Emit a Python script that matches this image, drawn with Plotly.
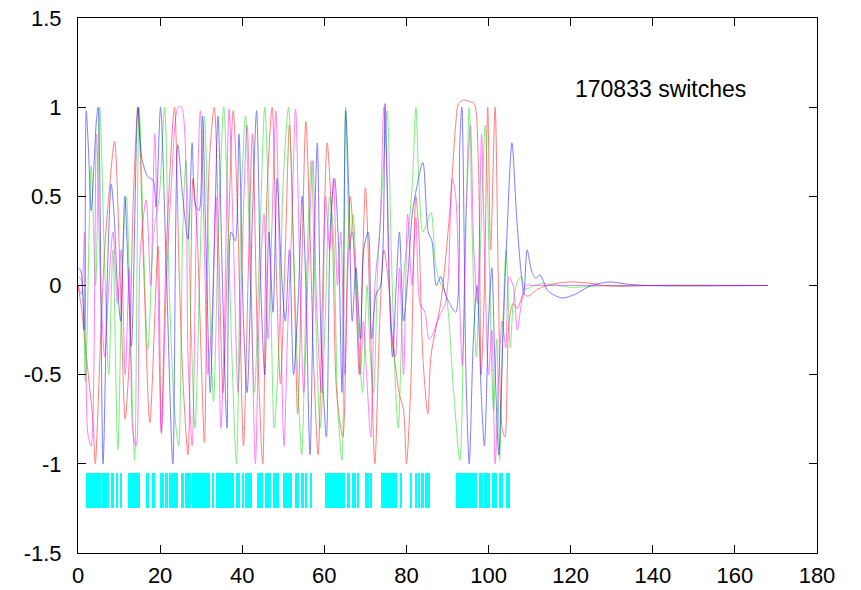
import plotly.graph_objects as go

# ---- data ----
red_x = [0, 0.8, 2.5, 3.65, 4.2, 5.5, 6.5, 7.5, 8.9, 10.2, 11.5, 12.5, 13.5, 14.6, 16, 17.5, 19.5, 20.3, 21.5, 23.5,
         24.6, 25.5, 26.8, 28.0, 29.0, 30.0, 30.8, 32, 33.2, 34.5, 35.3, 36.5, 37.8, 39, 40.3, 41.5, 42.5, 43.7, 45, 46,
         47.3, 48.4, 49.3, 50.5, 51.5, 52.6, 53.5, 54.5, 55.5, 56.5, 57.5, 58.5, 59.5, 60.7, 62, 63, 64.5, 65.5, 66.3, 67.5,
         68.5, 70, 71.2, 72.3, 73.5, 74.5, 75.7, 76.5, 77.3, 78.2, 79.3, 80, 81, 82.3, 83.0, 84, 85.2, 86, 88.4, 90.5,
         92, 92.7, 94, 95.5, 96.5, 97.5, 98.2, 99.0, 99.8, 100.5, 101.6, 102.4, 103.3, 104.0, 105, 106, 107, 108.5, 109.6, 112,
         116, 120, 124, 128, 132, 140, 168]
red_y = [0, -0.12, -0.5, -0.76, -1.0, -0.3, 0.2, 0.5, 0.81, 0.1, -0.75, -0.4, 0.5, 1.0, 0.1, -0.77, 0.22, -0.83, 0.2, 1.0,
         0.1, -0.5, -0.95, 0.6, 0.3, -0.4, -0.88, 0.7, 1.0, 0.0, -0.6, 0.2, 0.98, 0.3, -0.9, 0.1, 0.85, -0.3, -1.0, 0.5,
         1.0, 0.0, -0.55, 0.2, 0.9, 0.1, -0.72, 0.1, 0.92, 0.3, -0.5, -0.95, -0.1, 0.8, 0.25, -0.6, -0.85, 0.0, 0.5, 0.1,
         -0.5, 0.55, -0.2, -1.0, -0.2, 0.2, 0.0, -0.3, -0.45, -0.6, -0.7, -1.0, -0.6, 0.5, 0.3, -0.4, -0.72, -0.39, -0.09, 0.4,
         0.9, 1.02, 1.04, 1.03, 1.02, 0.7, -0.5, 0.0, 1.0, 0.2, 1.0, 0.0, -0.8, -0.85, -0.2, -0.1, -0.13, -0.05, -0.06, -0.02,
         0.01, 0.02, 0.015, 0.0, -0.005, 0, 0]

green_x = [0, 0.8, 1.8, 3.2, 4.3, 5.3, 6.5, 7.5, 8.5, 9.7, 10.8, 11.8, 12.8, 13.8, 14.9, 16, 17, 18.5, 19.8, 21.1,
           22.2, 23.5, 24.5, 25.5, 26.3, 27.5, 28.5, 29.7, 30.8, 31.8, 33.0, 34.2, 35.5, 36.5, 37.5, 38.6, 39.8, 40.8, 42, 43,
           44.2, 45.5, 46.8, 47.8, 49, 50, 51.3, 52.4, 53.5, 54.5, 55.6, 56.8, 57.8, 59, 60.2, 61.3, 62.2, 63.3, 64.3, 65.2,
           66.2, 67, 68.2, 69.3, 70.4, 71.2, 72, 73, 74, 75.3, 76.3, 77.2, 78.0, 78.8, 79.5, 80.5, 81.5, 82.3, 83.0, 84.0,
           85.0, 86.0, 87.2, 88.5, 89.6, 91.5, 93.0, 94.0, 95.3, 96.0, 97.0, 98.0, 99.2, 100.2, 101.2, 102.0, 102.7, 103.5, 104.3, 105.3,
           106.0, 107, 108, 109, 111, 113, 116, 120, 125, 130, 168]
green_y = [0.05, 0.03, -0.54, 0.67, 0.0, 1.0, 0.1, -0.5, 0.2, -0.92, 0.1, 0.5, -0.3, -0.98, 1.0, 0.2, -0.36, 0.3, 0.5, 1.0,
           0.0, -0.7, -0.9, 0.3, 0.7, -0.2, -0.8, 0.1, 0.95, 0.2, -0.65, 0.3, 1.0, 0.4, -0.4, -1.0, 0.5, 0.95, 0.0, -0.6,
           0.2, 1.0, 0.1, -0.8, -0.3, 0.6, 1.0, 0.3, -0.5, -0.95, 0.0, 0.7, -0.1, -0.8, -0.2, 0.5, 0.3, -0.7, -0.98, 1.0,
           0.2, 0.4, -0.2, -0.6, 0.0, -0.4, -0.6, 0.1, 0.5, 0.98, 0.2, -0.5, -0.8, -0.3, 0.1, 0.3, 0.6, 1.0, 0.6, 0.3,
           0.35, 0.41, 0.1, 0.0, -0.05, -0.6, -0.98, -0.2, 1.0, 0.3, -0.4, 0.2, 0.9, 0.1, -0.7, -0.3, -0.98, -0.2, 0.2, -0.35,
           -0.1, 0.02, 0.05, -0.02, 0.0, 0.01, 0.005, -0.01, -0.005, 0, 0]

blue_x = [0, 0.7, 1.5, 2.0, 2.6, 3.2, 4.5, 4.9, 6.1, 7.2, 8.1, 8.8, 9.6, 10.4, 11.4, 13.0, 14.6, 15.5, 17.0, 18.3,
          19.0, 20.1, 21.5, 23.1, 24.3, 25.5, 26.8, 27.8, 28.6, 29.5, 30.3, 31.2, 32.2, 33.2, 34.1, 35.2, 36.3, 37.3, 38.3, 39.2,
          40.3, 41.2, 42.5, 43.5, 44.5, 45.5, 46.5, 47.5, 48.5, 49.5, 50.5, 51.5, 52.5, 53.7, 54.6, 55.5, 56.5, 57.5, 58.3, 59.2,
          60.5, 61.5, 62.5, 63.5, 64.3, 65.2, 66.0, 66.8, 67.7, 68.8, 69.6, 70.7, 71.5, 72.6, 73.7, 74.8, 75.7, 76.6, 77.5, 78.3,
          79.3, 80.5, 81.4, 82.5, 84.0, 85.3, 86.2, 87.3, 88.4, 89.5, 90.5, 92.0, 93.0, 93.5, 94.5, 95.3, 96.3, 97.2, 98.2, 99.0,
          100.0, 100.8, 101.5, 102.5, 103.5, 104.5, 105.7, 106.8, 107.8, 108.6, 109.4, 110.5, 111.5, 112.5, 114.5, 117.9, 121, 125, 129.6, 133,
          138, 168]
blue_y = [0.1, 0.08, -0.25, 0.98, 0.74, 0.42, 0.93, 1.0, -1.0, 0.1, 0.57, 0.39, 0.0, -0.2, 0.5, -0.34, 1.0, 0.72, 0.61, 0.59,
          0.44, 1.0, 0.1, -1.0, 0.79, 0.5, 0.26, 0.8, 0.45, 0.42, 0.95, 0.2, -0.6, 0.2, 0.95, 0.0, -0.8, 0.3, 0.25, 0.85,
          -0.2, -0.6, 0.4, 0.98, 0.0, -0.5, 0.3, -0.15, 0.6, 0.1, -0.2, 0.2, -0.5, -0.05, 0.5, 0.0, -0.95, 0.2, 0.8, -0.3,
          -0.85, 0.35, 0.6, 0.2, -0.6, 0.98, 0.5, -0.2, 0.1, -0.3, 0.2, 0.3, -0.3, -0.05, 0.0, 1.02, 0.1, -0.4, 0.0, 0.3,
          -0.2, 0.1, 0.4, 0.55, 0.69, 0.3, 0.25, 0.0, 0.05, -0.05, -0.1, -0.15, 0.8, 1.0, -0.5, -1.0, -0.3, 0.0, -0.6, -0.9,
          -0.2, 0.1, -0.4, -0.95, -0.3, 0.3, 0.8, 0.4, 0.1, -0.05, 0.2, 0.08, 0.04, 0.06, -0.03, -0.07, -0.05, 0.0, 0.02, 0.01,
          0.0, 0]

magenta_x = [0, 0.8, 1.6, 2.4, 3.2, 4.5, 5.5, 6.5, 7.5, 8.5, 9.6, 10.5, 11.5, 12.5, 13.4, 14.2, 15.2, 16.6, 17.7, 18.7,
             20.3, 21.5, 22.7, 24.4, 25.2, 26.8, 27.8, 28.8, 29.8, 30.8, 31.6, 32.6, 33.6, 34.8, 35.6, 36.8, 37.8, 39.0, 40.0, 41.2,
             42.2, 43.2, 44.3, 45.3, 46.3, 47.2, 48.2, 49.2, 50.2, 51.0, 52.0, 53.0, 54.0, 55.0, 56.2, 57.2, 58.1, 59.3, 60.3, 61.3,
             62.2, 63.2, 64.0, 65.0, 66.0, 66.8, 67.8, 68.8, 69.5, 70.3, 71.3, 72.3, 73.5, 74.5, 75.3, 76.2, 77.3, 78.3, 79.3, 80.3,
             81.3, 82.3, 83.3, 84.5, 85.5, 86.5, 87.5, 88.5, 89.5, 90.2, 91.2, 92.0, 92.8, 93.6, 94.5, 95.6, 96.4, 97.3, 98.3, 99.0,
             100.0, 100.8, 101.6, 102.5, 103.3, 104.2, 105.0, 106.0, 107, 108, 109, 111, 168]
magenta_y = [0.0, -0.05, 0.3, -0.83, -0.9, 0.85, 0.0, -0.4, 0.0, 0.3, -0.1, 0.2, -0.5, 0.1, -0.83, -0.9, 0.2, 0.48, 0.0, 0.85,
             -0.82, 0.0, 0.55, 1.0, 1.0, -0.4, -0.9, 0.3, 0.98, 0.2, -0.5, -0.2, 0.5, -0.8, -0.3, 0.99, 0.3, -0.6, 0.2, 0.9,
             0.0, -1.0, 0.0, 0.4, -0.3, 0.3, 0.98, 0.0, -0.9, -0.3, 0.3, 0.99, 0.1, -0.6, 0.2, 0.7, -0.1, -0.6, 0.5, 0.2,
             0.6, 0.0, 0.3, -0.5, 0.2, 0.3, -0.1, -0.5, -0.2, -0.5, -0.85, 0.0, 0.3, 1.0, 0.6, -0.2, -0.4, 0.1, -0.5, 0.4,
             0.0, 0.38, -0.1, -0.15, -0.3, -0.27, -0.2, -0.15, -0.1, 0.05, 0.6, 0.5, 0.0, -0.45, 0.4, 0.9, 0.2, -0.1, 0.85, 0.2,
             -0.5, -0.25, -1.0, -0.5, -0.2, -0.35, 0.05, 0.0, -0.25, -0.1, 0.0, 0.0, 0]

switch_start = [1.95, 5.92, 8.04, 9.18, 10.23, 12.25, 16.64, 17.95, 19.97, 21.19, 22.24, 25.09, 25.99, 27.77, 32.71, 33.61,
                38.48, 39.87, 40.68, 43.67, 45.47, 47.42, 49.93, 52.93, 54.24, 55.46, 56.51, 60.23, 65.52, 66.67, 67.96,
                69.90, 71.20, 73.88, 78.36, 80.87, 82.01, 82.89, 83.72, 84.59, 92.00, 97.67, 98.89, 100.84, 102.47, 104.32]
switch_end = [5.60, 7.55, 8.84, 9.67, 10.72, 15.17, 17.37, 18.83, 20.95, 21.92, 24.43, 25.75, 27.45, 32.22, 33.13, 38.07,
              39.53, 40.36, 42.45, 45.13, 47.08, 48.88, 52.20, 53.90, 54.97, 55.78, 56.92, 65.11, 66.25, 67.64, 68.37,
              70.95, 71.68, 77.70, 78.85, 81.35, 82.50, 83.30, 84.20, 85.74, 97.18, 98.57, 100.28, 102.06, 103.52, 105.30]
switch_low, switch_high = -1.25, -1.05

label_text = "170833 switches"

# ---- figure ----
fig = go.Figure()

centers = [(a + b) / 2 for a, b in zip(switch_start, switch_end)]
widths = [b - a for a, b in zip(switch_start, switch_end)]
fig.add_trace(go.Bar(x=centers, y=[switch_high - switch_low] * len(centers), base=switch_low,
                     width=widths, marker=dict(color="#00ffff", line=dict(width=0)),
                     showlegend=False, hoverinfo="skip"))

series = [(red_x, red_y, "#ff0000"), (green_x, green_y, "#00dd00"),
          (blue_x, blue_y, "#0000ff"), (magenta_x, magenta_y, "#ff00ff")]
for xs, ys, c in series:
    fig.add_trace(go.Scatter(x=xs, y=ys, mode="lines",
                             line=dict(color=c, width=1, shape="spline", smoothing=0.8),
                             opacity=0.5, showlegend=False))

FONT = "Liberation Sans, Arial, sans-serif"
fig.add_annotation(x=142, y=1.10, text=label_text, showarrow=False,
                   font=dict(size=23, color="black", family=FONT))

axis_common = dict(showgrid=False, zeroline=False, showline=True, linecolor="black", linewidth=1,
                   mirror="ticks", ticks="inside", ticklen=8, tickcolor="black", tickwidth=1,
                   automargin=False,
                   tickfont=dict(size=22, color="black", family=FONT))

fig.update_xaxes(range=[0, 180], tickvals=list(range(0, 181, 20)), ticklabelstandoff=3, **axis_common)
fig.update_yaxes(range=[-1.5, 1.5], tickvals=[-1.5, -1, -0.5, 0, 0.5, 1, 1.5],
                 ticktext=["-1.5", "-1", "-0.5", "0", "0.5", "1", "1.5"], ticklabelstandoff=11, **axis_common)

fig.update_layout(width=861, height=590, margin=dict(l=78, r=44, t=18, b=37, autoexpand=False),
                  plot_bgcolor="white", paper_bgcolor="white", bargap=0, hovermode=False)

fig.write_html("out.html", config={"displayModeBar": False},
               post_script="document.body.style.margin='0';document.body.style.overflow='hidden';")
